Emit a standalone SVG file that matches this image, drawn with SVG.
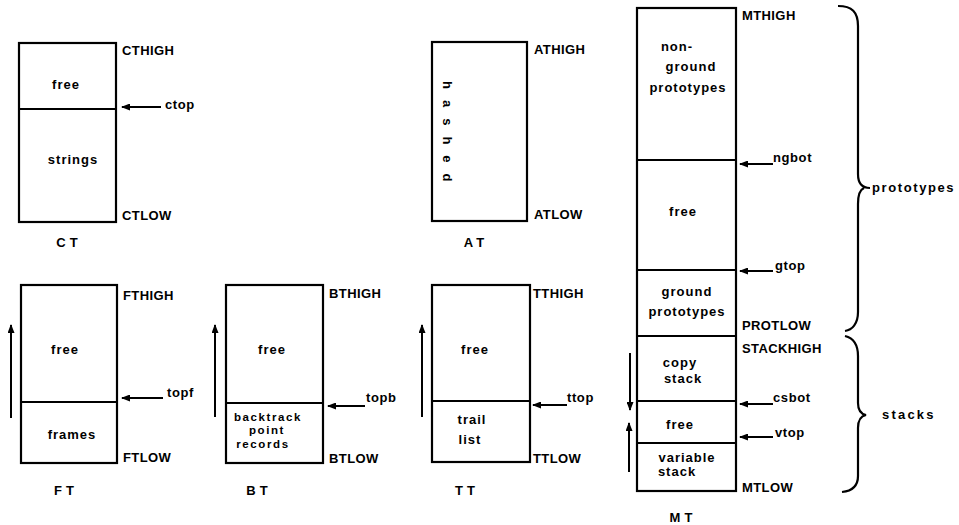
<svg xmlns="http://www.w3.org/2000/svg" width="959" height="525" viewBox="0 0 959 525">
<defs>
<style>
.box{fill:none;stroke:#000;stroke-width:2.2}
.dv{stroke:#000;stroke-width:1.8}
.t{font-family:"Liberation Sans",Arial,sans-serif;font-weight:bold;font-size:13px;fill:#000}
.c{text-anchor:middle;letter-spacing:1px}
.s{font-size:11.5px;letter-spacing:1.6px}
.l{letter-spacing:0.4px}
.p{letter-spacing:0.6px}
.n{text-anchor:middle;letter-spacing:4px}
.ptr{stroke:#000;stroke-width:1.8;fill:none;marker-end:url(#ah)}
.dir{stroke:#000;stroke-width:2;fill:none;marker-end:url(#ah2)}
.br{stroke:#000;stroke-width:2.2;fill:none}
</style>
<marker id="ah" markerUnits="userSpaceOnUse" markerWidth="9" markerHeight="7" refX="8" refY="3.5" orient="auto"><path d="M0,0 L9,3.5 L0,7 z" fill="#000"/></marker>
<marker id="ah2" markerUnits="userSpaceOnUse" markerWidth="9" markerHeight="7" refX="8" refY="3.5" orient="auto"><path d="M0,0 L9,3.5 L0,7 z" fill="#000"/></marker>
</defs>
<rect width="959" height="525" fill="#fff"/>

<g id="CT">
<rect class="box" x="19" y="43" width="97" height="179"/>
<line class="dv" x1="19" y1="109" x2="116" y2="109"/>
<text class="t c" x="66" y="89">free</text>
<text class="t c" x="73" y="164">strings</text>
<text class="t l" x="122" y="55">CTHIGH</text>
<text class="t p" x="165" y="109">ctop</text>
<text class="t l" x="122" y="220">CTLOW</text>
<text class="t n" x="69" y="247">CT</text>
</g>

<g id="AT">
<rect class="box" x="432" y="42" width="95" height="179"/>
<text class="t" transform="translate(443,81) rotate(90)" style="letter-spacing:11px">hashed</text>
<text class="t l" x="534" y="54">ATHIGH</text>
<text class="t l" x="534" y="219">ATLOW</text>
<text class="t n" x="476" y="247">AT</text>
</g>

<g id="FT">
<rect class="box" x="21" y="285" width="96" height="178"/>
<line class="dv" x1="21" y1="402" x2="117" y2="402"/>
<text class="t c" x="65" y="354">free</text>
<text class="t c" x="72" y="439">frames</text>
<text class="t l" x="123" y="300">FTHIGH</text>
<text class="t p" x="167" y="397">topf</text>
<text class="t l" x="123" y="462">FTLOW</text>
<text class="t n" x="66" y="495">FT</text>
</g>

<g id="BT">
<rect class="box" x="226" y="285" width="97" height="178"/>
<line class="dv" x1="226" y1="403" x2="323" y2="403"/>
<text class="t c" x="272" y="354">free</text>
<text class="t c s" x="268" y="420.5">backtrack</text>
<text class="t c s" x="267" y="434">point</text>
<text class="t c s" x="263" y="447.5">records</text>
<text class="t l" x="329" y="298">BTHIGH</text>
<text class="t p" x="366" y="402">topb</text>
<text class="t l" x="329" y="463">BTLOW</text>
<text class="t n" x="259" y="495">BT</text>
</g>

<g id="TT">
<rect class="box" x="432" y="285" width="98" height="177"/>
<line class="dv" x1="432" y1="401" x2="530" y2="401"/>
<text class="t c" x="475" y="354">free</text>
<text class="t c" x="472" y="424">trail</text>
<text class="t c" x="470" y="444">list</text>
<text class="t l" x="533" y="298">TTHIGH</text>
<text class="t p" x="567" y="402">ttop</text>
<text class="t l" x="533" y="463">TTLOW</text>
<text class="t n" x="467" y="495">TT</text>
</g>

<g id="MT">
<rect class="box" x="637" y="8" width="99" height="483"/>
<line class="dv" x1="637" y1="160" x2="736" y2="160"/>
<line class="dv" x1="637" y1="270" x2="736" y2="270"/>
<line class="dv" x1="637" y1="336" x2="736" y2="336"/>
<line class="dv" x1="637" y1="401" x2="736" y2="401"/>
<line class="dv" x1="637" y1="443" x2="736" y2="443"/>
<text class="t c" x="677" y="51">non-</text>
<text class="t c" x="691" y="71">ground</text>
<text class="t c" x="688" y="92">prototypes</text>
<text class="t c" x="683" y="216">free</text>
<text class="t c" x="687" y="296">ground</text>
<text class="t c" x="687" y="316">prototypes</text>
<text class="t c" x="680" y="367">copy</text>
<text class="t c" x="683" y="383">stack</text>
<text class="t c" x="680" y="429">free</text>
<text class="t c" x="687" y="462">variable</text>
<text class="t c" x="677" y="476">stack</text>
<text class="t l" x="742" y="20">MTHIGH</text>
<text class="t p" x="773" y="162">ngbot</text>
<text class="t p" x="775" y="270">gtop</text>
<text class="t l" x="742" y="330">PROTLOW</text>
<text class="t l" x="742" y="353">STACKHIGH</text>
<text class="t p" x="773" y="402">csbot</text>
<text class="t p" x="775" y="437">vtop</text>
<text class="t l" x="742" y="492">MTLOW</text>
<text class="t n" x="683" y="522">MT</text>
</g>

<g id="prototypes">
<path class="br" d="M838,6 C852,6 858,12 858,26 L858,174 C858,184 862,188 870,188 M864,188 C859,190 858,196 858,204 L858,312 C858,324 852,330 845,331"/>
<text class="t" x="872" y="192" style="letter-spacing:1.6px">prototypes</text>
</g>

<g id="stacks">
<path class="br" d="M845,336 C853,338 858,344 858,356 L858,403 C858,410 861,414 866,415 C861,416 858,420 858,428 L858,476 C858,486 852,491 842,492"/>
<text class="t" x="882" y="419" style="letter-spacing:2.2px">stacks</text>
</g>

<g id="connectors">
<line class="ptr" x1="161" y1="107" x2="122" y2="107"/>
<line class="ptr" x1="163" y1="398" x2="122" y2="398"/>
<line class="ptr" x1="365" y1="406" x2="328" y2="406"/>
<line class="ptr" x1="567" y1="405" x2="533" y2="405"/>
<line class="ptr" x1="773" y1="164" x2="740" y2="164"/>
<line class="ptr" x1="773" y1="271" x2="740" y2="271"/>
<line class="ptr" x1="773" y1="404" x2="740" y2="404"/>
<line class="ptr" x1="773" y1="437" x2="740" y2="437"/>
<line class="dir" x1="11" y1="418" x2="11" y2="325"/>
<line class="dir" x1="215" y1="417" x2="215" y2="325"/>
<line class="dir" x1="422" y1="417" x2="422" y2="325"/>
<line class="dir" x1="630" y1="353" x2="630" y2="410"/>
<line class="dir" x1="629" y1="472" x2="629" y2="423"/>
</g>
</svg>
